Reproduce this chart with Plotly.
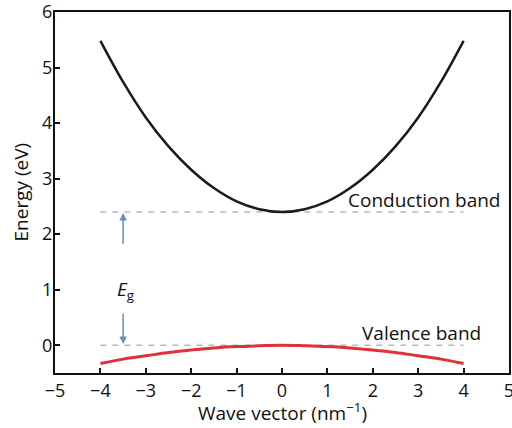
import plotly.graph_objects as go

# Wave vector samples (nm^-1)
k_values = [-4, -3.5, -3, -2.5, -2, -1.5, -1, -0.5, 0, 0.5, 1, 1.5, 2, 2.5, 3, 3.5, 4]
# Conduction band energies (eV)
conduction_energy = [5.48, 4.74, 4.10, 3.58, 3.16, 2.83, 2.59, 2.45, 2.40,
                     2.45, 2.59, 2.83, 3.16, 3.58, 4.10, 4.74, 5.48]
# Valence band energies (eV)
valence_energy = [-0.33, -0.25, -0.19, -0.13, -0.085, -0.05, -0.025, -0.01, 0.0,
                  -0.01, -0.025, -0.05, -0.085, -0.13, -0.19, -0.25, -0.33]
# Band edge levels (dashed lines)
level_k = [-4, 4]
conduction_edge = [2.4, 2.4]
valence_edge = [0.0, 0.0]
# Tick values
x_ticks = [-5, -4, -3, -2, -1, 0, 1, 2, 3, 4, 5]
y_ticks = [0, 1, 2, 3, 4, 5, 6]

FONT = "Open Sans"
TICK_FS = 18
TEXT_FS = 19

fig = go.Figure()
fig.add_trace(go.Scatter(x=level_k, y=conduction_edge, mode="lines",
                         line=dict(color="#b9b9b9", width=1.5, dash="6px,6px"),
                         hoverinfo="skip", showlegend=False))
fig.add_trace(go.Scatter(x=level_k, y=valence_edge, mode="lines",
                         line=dict(color="#b9b9b9", width=1.5, dash="6px,6px"),
                         hoverinfo="skip", showlegend=False))
fig.add_trace(go.Scatter(x=k_values, y=conduction_energy, mode="lines",
                         line=dict(color="#1a1a1a", width=2.5, shape="spline"),
                         showlegend=False))
fig.add_trace(go.Scatter(x=k_values, y=valence_energy, mode="lines",
                         line=dict(color="#e0303a", width=3, shape="spline"),
                         showlegend=False))

arrow_color = "#5f8fc4"
fig.add_annotation(x=-3.5, y=2.38, ax=-3.5, ay=1.8, xref="x", yref="y",
                   axref="x", ayref="y", text="", showarrow=True,
                   arrowhead=2, arrowsize=1, arrowwidth=1.5, arrowcolor=arrow_color)
fig.add_annotation(x=-3.5, y=0.02, ax=-3.5, ay=0.6, xref="x", yref="y",
                   axref="x", ayref="y", text="", showarrow=True,
                   arrowhead=2, arrowsize=1, arrowwidth=1.5, arrowcolor=arrow_color)
fig.add_annotation(x=-3.45, y=1.0, xref="x", yref="y", text="<i>E</i><sub>g</sub>",
                   showarrow=False, font=dict(family=FONT, size=TEXT_FS, color="#111"))
fig.add_annotation(x=4.85, y=2.42, xref="x", yref="y", yshift=-4, text="Conduction band",
                   xanchor="right", yanchor="bottom", showarrow=False,
                   font=dict(family=FONT, size=TEXT_FS, color="#111"))
fig.add_annotation(x=4.42, y=0.02, xref="x", yref="y", yshift=-4, text="Valence band",
                   xanchor="right", yanchor="bottom", showarrow=False,
                   font=dict(family=FONT, size=TEXT_FS, color="#111"))

# Axis titles
fig.add_annotation(x=0.5, y=0, xref="paper", yref="paper", yshift=-39,
                   text="Wave vector (nm<sup>−1</sup>)", showarrow=False,
                   xanchor="center", yanchor="middle",
                   font=dict(family=FONT, size=TEXT_FS, color="#111"))
fig.add_annotation(x=0, y=0.5, xref="paper", yref="paper", xshift=-35,
                   text="Energy (eV)", textangle=-90, showarrow=False,
                   xanchor="center", yanchor="middle",
                   font=dict(family=FONT, size=TEXT_FS, color="#111"))

axis_common = dict(ticks="inside", ticklen=5, tickwidth=1.5, tickcolor="#111",
                   showline=True, linecolor="#111", linewidth=2, mirror=True,
                   showgrid=False, zeroline=False, automargin=False,
                   ticklabeloverflow="allow",
                   tickfont=dict(family=FONT, size=TICK_FS, color="#111"))

fig.update_layout(
    width=512, height=428,
    margin=dict(l=55, r=3, t=12, b=55),
    paper_bgcolor="white", plot_bgcolor="white",
    font=dict(family=FONT, size=TEXT_FS, color="#111"),
    xaxis=dict(range=[-5, 5], tickmode="array", tickvals=x_ticks, **axis_common),
    yaxis=dict(range=[-0.5, 6], tickmode="array", tickvals=y_ticks,
               ticklabelstandoff=-3, **axis_common),
)

fig.write_html("out.html",
               config={"displayModeBar": False},
               post_script="document.body.style.margin='0';document.body.style.overflow='hidden';")
